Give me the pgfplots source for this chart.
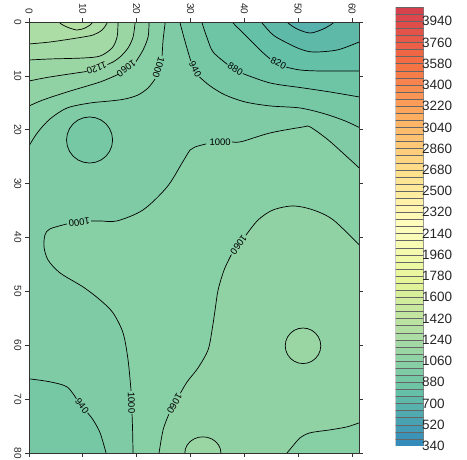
\documentclass[border=0pt]{standalone}
\usepackage{fontspec}
\setmainfont{Liberation Sans}
\usepackage{pgfplots}
\pgfplotsset{compat=1.18}
\definecolor{sp0}{HTML}{3288BD}
\definecolor{sp1}{HTML}{66C2A5}
\definecolor{sp2}{HTML}{ABDDA4}
\definecolor{sp3}{HTML}{E6F598}
\colorlet{c670}{sp1!71!sp0}
\colorlet{c730}{sp1!84!sp0}
\colorlet{c790}{sp1!97!sp0}
\colorlet{c850}{sp2!10!sp1}
\colorlet{c910}{sp2!23!sp1}
\colorlet{c970}{sp2!35!sp1}
\colorlet{c1030}{sp2!48!sp1}
\colorlet{c1090}{sp2!61!sp1}
\colorlet{c1150}{sp2!74!sp1}
\colorlet{c1210}{sp2!87!sp1}
\colorlet{c1270}{sp2}
\colorlet{c1330}{sp3!13!sp2}
\pgfplotsset{
  colormap={spec}{HTML=(3288BD) HTML=(66C2A5) HTML=(ABDDA4) HTML=(E6F598) HTML=(FFFFBF) HTML=(FEE08B) HTML=(FDAE61) HTML=(F46D43) HTML=(D53E4F)},
  cl/.style={smooth, draw=black, line width=0.7pt},
  pl/.style={sharp plot, draw=black, line width=0.7pt},
  fl/.style={smooth, draw=none, fill=#1},
  pf/.style={sharp plot, draw=none, fill=#1},
}
\tikzset{lab/.style={pos=1, anchor=west, inner sep=1pt, text=black, font=\fontsize{9.5}{10}\selectfont}}
\begin{document}
\begin{tikzpicture}
\useasboundingbox (0,0) rectangle (467pt,459pt);
\begin{axis}[
  at={(29pt,6pt)}, anchor=south west,
  scale only axis, width=330pt, height=431pt,
  xmin=0, xmax=61.3, ymin=0, ymax=80, y dir=reverse,
  axis on top,
  axis background/.style={fill=c970},
  xtick={0,10,...,60}, ytick={0,10,...,80},
  xticklabel pos=right,
  tick align=outside,
  major tick length=4pt,
  tick style={black!80, line width=0.7pt},
  axis line style={black!80, line width=0.9pt},
  /pgf/number format/assume math mode=true,
  /pgf/number format/1000 sep={},
  ticklabel style={font=\fontsize{10}{10}\selectfont, text=black!85},
  xticklabel style={rotate=-90, anchor=east},
  yticklabel style={rotate=-90, anchor=north},
  colormap name=spec,
  point meta min=340, point meta max=4060,
  colorbar sampled={surf, mark=none, shader=faceted, faceted color=black!60},
  colorbar style={
    at={(parent axis.north east)}, anchor=north west, xshift=28pt, yshift=15pt,
    scale only axis, width=28pt, height=439pt, y dir=normal,
    samples=63,
    ytick={340,520,...,3940},
    major tick length=0pt,
    axis line style={draw=none},
    /pgf/number format/assume math mode=true,
    /pgf/number format/1000 sep={},
    yticklabel style={font=\fontsize{13.5}{14}\selectfont, text=black!85, xshift=-5pt},
  },
]
% ---------- filled bands (superlevel / sublevel sets) ----------
\addplot[fl=c1030] coordinates {(25.3,-0.5) (25.28,0.19) (24.91,3.34) (24.72,6.31) (23.98,8.35) (23.42,10.58) (22.12,12.24) (20.26,13.54) (17.84,14.29) (15.06,14.66) (11.34,15.03) (7.06,15.96) (3.9,18.0) (1.67,20.41) (0,23.0) (-0.5,24.3) (-1,-1)};
\addplot[fl=c1090] coordinates {(22.35,-0.5) (22.3,0.19) (22.12,2.78) (21.19,5.19) (19.87,7.35) (18.22,8.53) (16.56,9.72) (13.2,11.13) (7.06,12.99) (2.6,14.47) (0,15.58) (-0.5,15.8) (-1,-1)};
\addplot[fl=c1150] coordinates {(19.75,-0.5) (19.7,0.19) (19.33,2.78) (18.4,4.82) (16.91,6.49) (15.61,7.42) (14.57,7.89) (12.64,8.53) (10.71,9.18) (3.9,10.2) (0,10.95) (-0.5,11.05) (-1,-1)};
\addplot[fl=c1210] coordinates {(16.6,-0.5) (16.54,0.19) (16.36,2.78) (15.43,4.82) (13.2,6.31) (10.04,6.68) (3.9,6.86) (0,7.05) (-0.5,7.06) (-1,-1)};
\addplot[fl=c1270] coordinates {(14.6,-0.5) (14.5,0.19) (13.57,1.48) (11.9,2.41) (8.92,2.97) (3.9,3.71) (0,4.08) (-0.5,4.15) (-1,-1)};
\addplot[fl=c1330] coordinates {(5.65,-0.5) (5.76,0.19) (7.06,0.93) (8.92,1.48) (10.41,1.11) (11.34,0.56) (11.71,0.19) (11.8,-0.5)};
\addplot[fl=c910] coordinates {(28.0,-0.5) (28.07,0.19) (28.81,2.97) (29.55,5.57) (30.06,7.25) (30.86,8.72) (31.65,10.19) (33.64,11.87) (36.43,13.54) (40.15,14.84) (44.8,15.58) (50.37,15.96) (55.02,17.07) (58.74,18.37) (61.34,19.57) (62,19.8) (63,-1)};
\addplot[fl=c850] coordinates {(32.1,-0.5) (32.16,0.19) (33.09,2.97) (34.2,5.57) (36.86,7.87) (38.29,8.72) (39.72,9.57) (44.8,11.32) (50.93,12.24) (55.95,12.99) (61.34,13.91) (62,14.0) (63,-1)};
\addplot[fl=c790] coordinates {(37.7,-0.5) (37.92,0.19) (39.78,2.04) (41.64,3.9) (43.31,5.57) (44.8,6.85) (46.28,7.61) (47.77,8.37) (50.37,8.91) (54.09,9.09) (61.34,9.09) (62,9.09) (63,-1)};
\addplot[fl=c730] coordinates {(43.0,-0.5) (43.31,0.19) (45.35,2.41) (47.96,3.9) (50.37,5.01) (52.79,5.57) (57.25,5.19) (61.34,3.71) (62,3.4) (63,-1)};
\addplot[fl=c670] coordinates {(47.8,-0.5) (48.14,0.19) (49.81,1.3) (52.23,2.04) (54.65,1.3) (56.51,0.19) (56.8,-0.5)};
\addplot[pf=c910] coordinates {(15.53,21.9) (15.38,23.01) (14.96,24.04) (14.28,24.93) (13.39,25.61) (12.36,26.03) (11.25,26.18) (10.14,26.03) (9.11,25.61) (8.22,24.93) (7.54,24.04) (7.12,23.01) (6.97,21.9) (7.12,20.79) (7.54,19.76) (8.22,18.87) (9.11,18.19) (10.14,17.77) (11.25,17.62) (12.36,17.77) (13.39,18.19) (14.28,18.87) (14.96,19.76) (15.38,20.79) (15.53,21.9)};
\addplot[fl=c910] coordinates {(-0.5,66.2) (0,66.23) (3.9,66.79) (7.06,67.72) (8.81,69.93) (9.85,71.24) (10.89,72.56) (11.9,73.84) (13.2,76.25) (14.31,79.96) (14.4,80.5) (-1,81)};
\addplot[fl=c1030] coordinates {(62,27.7) (61.34,27.09) (59.11,25.05) (55.58,21.89) (52.23,19.48) (50.93,19.48) (44.8,20.59) (39.5,22.2) (37.73,22.26) (35.32,22.45) (32.9,22.63) (30.86,23.19) (29.93,23.75) (28.44,26.16) (25.65,30.61) (21.19,34.88) (16.36,36.92) (13.2,36.92) (11.52,36.92) (9.29,37.11) (7.06,37.48) (3.9,38.4) (2.97,39.52) (2.79,41.74) (3.53,44.16) (5.76,46.57) (10.04,49.17) (13.2,51.58) (15.61,53.99) (17.47,57.7) (18.4,62.71) (18.96,68.46) (19.14,70.5) (19.14,72.73) (19.24,75.7) (19.33,79.96) (19.35,80.5) (63,81)};
\addplot[fl=c1090] coordinates {(62,42.0) (61.34,41.37) (56.51,36.73) (52.79,34.88) (49.07,34.14) (45.35,34.88) (42.57,36.73) (40.28,39.59) (38.94,41.37) (37.6,43.15) (36.25,46.01) (35.13,49.72) (34.57,53.43) (34.01,57.14) (33.27,60.85) (31.41,64.19) (29.37,66.79) (28.12,68.92) (27.04,70.87) (25.97,72.82) (24.91,75.7) (24.16,79.96) (24.1,80.5) (63,81)};
\addplot[fl=c1030] coordinates {(47.6,80.5) (47.96,79.96) (48.88,78.85) (50.37,77.18) (52.23,76.25) (55.95,75.7) (59.11,75.14) (61.34,74.4) (62,74.2) (63,81)};
\addplot[pf=c1150] coordinates {(54.2,60.1) (54.09,60.95) (53.76,61.75) (53.23,62.43) (52.55,62.96) (51.75,63.29) (50.9,63.4) (50.05,63.29) (49.25,62.96) (48.57,62.43) (48.04,61.75) (47.71,60.95) (47.6,60.1) (47.71,59.25) (48.04,58.45) (48.57,57.77) (49.25,57.24) (50.05,56.91) (50.9,56.8) (51.75,56.91) (52.55,57.24) (53.23,57.77) (53.76,58.45) (54.09,59.25) (54.2,60.1)};
\addplot[pf=c1150] coordinates {(28.9,80.5) (28.95,80) (29.06,79.22) (29.4,78.5) (29.93,77.88) (30.63,77.4) (31.43,77.1) (32.3,77.0) (33.17,77.1) (33.98,77.4) (34.67,77.88) (35.2,78.5) (35.54,79.22) (35.65,80) (35.7,80.5)};
% ---------- contour lines ----------
\addplot[cl] coordinates {(5.65,-0.5) (5.76,0.19) (7.06,0.93) (8.92,1.48) (10.41,1.11) (11.34,0.56) (11.71,0.19) (11.8,-0.5)};
\addplot[cl] coordinates {(14.6,-0.5) (14.5,0.19) (13.57,1.48) (11.9,2.41) (8.92,2.97) (3.9,3.71) (0,4.08) (-0.5,4.15)};
\addplot[cl] coordinates {(16.6,-0.5) (16.54,0.19) (16.36,2.78) (15.43,4.82) (13.2,6.31) (10.04,6.68) (3.9,6.86) (0,7.05) (-0.5,7.06)};
\addplot[cl] coordinates {(19.75,-0.5) (19.7,0.19) (19.33,2.78) (18.4,4.82) (16.91,6.49) (15.61,7.42) (14.57,7.89)} node[lab, rotate=-161] {1120};
\addplot[cl] coordinates {(10.71,9.18) (3.9,10.2) (0,10.95) (-0.5,11.05)};
\addplot[cl] coordinates {(22.35,-0.5) (22.3,0.19) (22.12,2.78) (21.19,5.19) (19.87,7.35)} node[lab, rotate=-144] {1060};
\addplot[cl] coordinates {(16.56,9.72) (13.2,11.13) (7.06,12.99) (2.6,14.47) (0,15.58) (-0.5,15.8)};
\addplot[cl] coordinates {(25.3,-0.5) (25.28,0.19) (24.91,3.34) (24.72,6.31)} node[lab, rotate=-107] {1000};
\addplot[cl] coordinates {(23.42,10.58) (22.12,12.24) (20.26,13.54) (17.84,14.29) (15.06,14.66) (11.34,15.03) (7.06,15.96) (3.9,18.0) (1.67,20.41) (0,23.0) (-0.5,24.3)};
\addplot[cl] coordinates {(28.0,-0.5) (28.07,0.19) (28.81,2.97) (29.55,5.57) (30.06,7.25)} node[lab, rotate=-61] {940};
\addplot[cl] coordinates {(31.65,10.19) (33.64,11.87) (36.43,13.54) (40.15,14.84) (44.8,15.58) (50.37,15.96) (55.02,17.07) (58.74,18.37) (61.34,19.57) (62,19.8)};
\addplot[cl] coordinates {(32.1,-0.5) (32.16,0.19) (33.09,2.97) (34.2,5.57) (36.86,7.87)} node[lab, rotate=-31] {880};
\addplot[cl] coordinates {(39.72,9.57) (44.8,11.32) (50.93,12.24) (55.95,12.99) (61.34,13.91) (62,14.0)};
\addplot[cl] coordinates {(37.7,-0.5) (37.92,0.19) (39.78,2.04) (41.64,3.9) (43.31,5.57) (44.8,6.85)} node[lab, rotate=-27] {820};
\addplot[cl] coordinates {(47.77,8.37) (50.37,8.91) (54.09,9.09) (61.34,9.09) (62,9.09)};
\addplot[cl] coordinates {(43.0,-0.5) (43.31,0.19) (45.35,2.41) (47.96,3.9) (50.37,5.01) (52.79,5.57) (57.25,5.19) (61.34,3.71) (62,3.4)};
\addplot[cl] coordinates {(47.8,-0.5) (48.14,0.19) (49.81,1.3) (52.23,2.04) (54.65,1.3) (56.51,0.19) (56.8,-0.5)};
\addplot[pl] coordinates {(15.53,21.9) (15.38,23.01) (14.96,24.04) (14.28,24.93) (13.39,25.61) (12.36,26.03) (11.25,26.18) (10.14,26.03) (9.11,25.61) (8.22,24.93) (7.54,24.04) (7.12,23.01) (6.97,21.9) (7.12,20.79) (7.54,19.76) (8.22,18.87) (9.11,18.19) (10.14,17.77) (11.25,17.62) (12.36,17.77) (13.39,18.19) (14.28,18.87) (14.96,19.76) (15.38,20.79) (15.53,21.9)};
\addplot[cl] coordinates {(-0.5,66.2) (0,66.23) (3.9,66.79) (7.06,67.72) (8.81,69.93)} node[lab, rotate=-52] {940};
\addplot[cl] coordinates {(10.89,72.56) (11.9,73.84) (13.2,76.25) (14.31,79.96) (14.4,80.5)};
\addplot[cl] coordinates {(62,27.7) (61.34,27.09) (59.11,25.05) (55.58,21.89) (52.23,19.48) (50.93,19.48) (44.8,20.59) (39.5,22.2) (37.73,22.26)} node[lab, anchor=east] {1000};
\addplot[cl] coordinates {(32.9,22.63) (30.86,23.19) (29.93,23.75) (28.44,26.16) (25.65,30.61) (21.19,34.88) (16.36,36.92) (13.2,36.92) (11.52,36.92)} node[lab, rotate=-173] {1000};
\addplot[cl] coordinates {(7.06,37.48) (3.9,38.4) (2.97,39.52) (2.79,41.74) (3.53,44.16) (5.76,46.57) (10.04,49.17) (13.2,51.58) (15.61,53.99) (17.47,57.7) (18.4,62.71) (18.96,68.46)} node[lab, rotate=-88] {1000};
\addplot[cl] coordinates {(19.14,72.73) (19.24,75.7) (19.33,79.96) (19.35,80.5)};
\addplot[cl] coordinates {(62,42.0) (61.34,41.37) (56.51,36.73) (52.79,34.88) (49.07,34.14) (45.35,34.88) (42.57,36.73) (40.28,39.59)} node[lab, rotate=-127] {1060};
\addplot[cl] coordinates {(37.6,43.15) (36.25,46.01) (35.13,49.72) (34.57,53.43) (34.01,57.14) (33.27,60.85) (31.41,64.19) (29.37,66.79) (28.12,68.92)} node[lab, rotate=-119] {1060};
\addplot[cl] coordinates {(25.97,72.82) (24.91,75.7) (24.16,79.96) (24.1,80.5)};
\addplot[cl] coordinates {(47.6,80.5) (47.96,79.96) (48.88,78.85) (50.37,77.18) (52.23,76.25) (55.95,75.7) (59.11,75.14) (61.34,74.4) (62,74.2)};
\addplot[pl] coordinates {(54.2,60.1) (54.09,60.95) (53.76,61.75) (53.23,62.43) (52.55,62.96) (51.75,63.29) (50.9,63.4) (50.05,63.29) (49.25,62.96) (48.57,62.43) (48.04,61.75) (47.71,60.95) (47.6,60.1) (47.71,59.25) (48.04,58.45) (48.57,57.77) (49.25,57.24) (50.05,56.91) (50.9,56.8) (51.75,56.91) (52.55,57.24) (53.23,57.77) (53.76,58.45) (54.09,59.25) (54.2,60.1)};
\addplot[pl] coordinates {(28.9,80.5) (28.95,80) (29.06,79.22) (29.4,78.5) (29.93,77.88) (30.63,77.4) (31.43,77.1) (32.3,77.0) (33.17,77.1) (33.98,77.4) (34.67,77.88) (35.2,78.5) (35.54,79.22) (35.65,80) (35.7,80.5)};
\end{axis}
\end{tikzpicture}
\end{document}
